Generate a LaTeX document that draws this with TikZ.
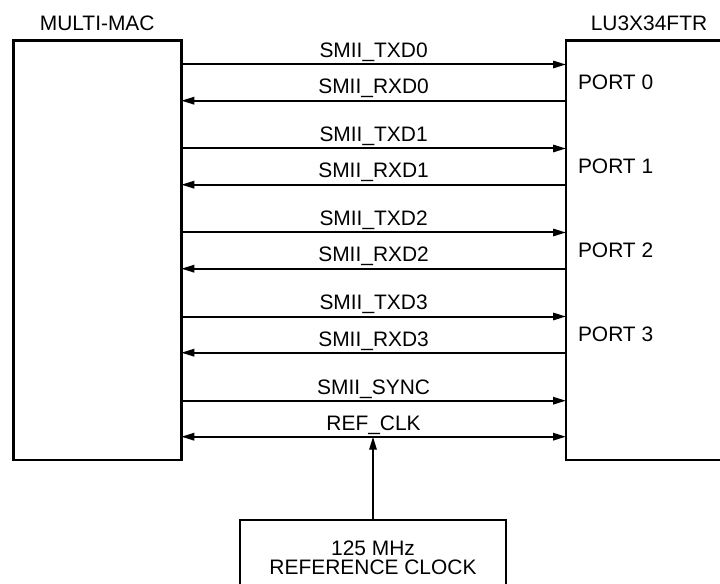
\documentclass[tikz,border=0pt]{standalone}
\usepackage{fontspec}
\setmainfont{Liberation Sans}
\usetikzlibrary{arrows.meta}
\begin{document}
\begin{tikzpicture}[x=0.75pt,y=-0.75pt,
  blk/.style={draw, line width=2pt, inner sep=0pt, outer sep=0pt},
  sig/.style={line width=1.5pt},
  lbl/.style={font=\fontsize{15.7}{18}\selectfont, anchor=base, inner sep=0pt, outer sep=0pt},
  >={Triangle[length=9.75pt,width=5.5pt]}]
\useasboundingbox (0,0) rectangle (720,584);
\clip (0,0) rectangle (720,584);
% blocks
\node[blk, minimum width=125.6pt, minimum height=314.8pt] (mac) at (97.55,250.15) {};
\node[blk, minimum width=175.5pt, minimum height=314.8pt] (phy) at (683,250.15) {};
\node[blk, minimum width=199.5pt, minimum height=105pt] (clk) at (373,590) {};
% titles
\node[lbl] (tmac) at (97.2,30.7) {MULTI-MAC};
\node[lbl] (tphy) at (649,30.7) {LU3X34FTR};
\node[lbl] (c1) at (373,555) {125 MHz};
\node[lbl] (c2) at (373,574.3) {REFERENCE CLOCK};
% port signals
\foreach \i in {0,...,3} {
  \pgfmathsetmacro\ty{64.5+84*\i}
  \pgfmathsetmacro\ry{100.7+84*\i}
  \draw[sig,->] (mac.east |- 0,\ty) -- (phy.west |- 0,\ty);
  \draw[sig,->] (phy.west |- 0,\ry) -- (mac.east |- 0,\ry);
  \node[lbl] (tx\i) at (373.6,\ty-6.7) {SMII\_TXD\i};
  \node[lbl] (rx\i) at (373.6,\ry-6.7) {SMII\_RXD\i};
  \node[lbl, anchor=base west] (port\i) at (578,\ty+24.8) {PORT \i};
}
% sync and clock
\draw[sig,->] (mac.east |- 0,400.7) -- (phy.west |- 0,400.7);
\node[lbl] (sync) at (373.6,394) {SMII\_SYNC};
\draw[sig,<->] (mac.east |- 0,436.7) -- (phy.west |- 0,436.7);
\node[lbl] (refclk) at (373.6,430) {REF\_CLK};
\draw[sig,->] (clk.north) -- (clk.north |- 0,436.7);
\end{tikzpicture}
\end{document}
